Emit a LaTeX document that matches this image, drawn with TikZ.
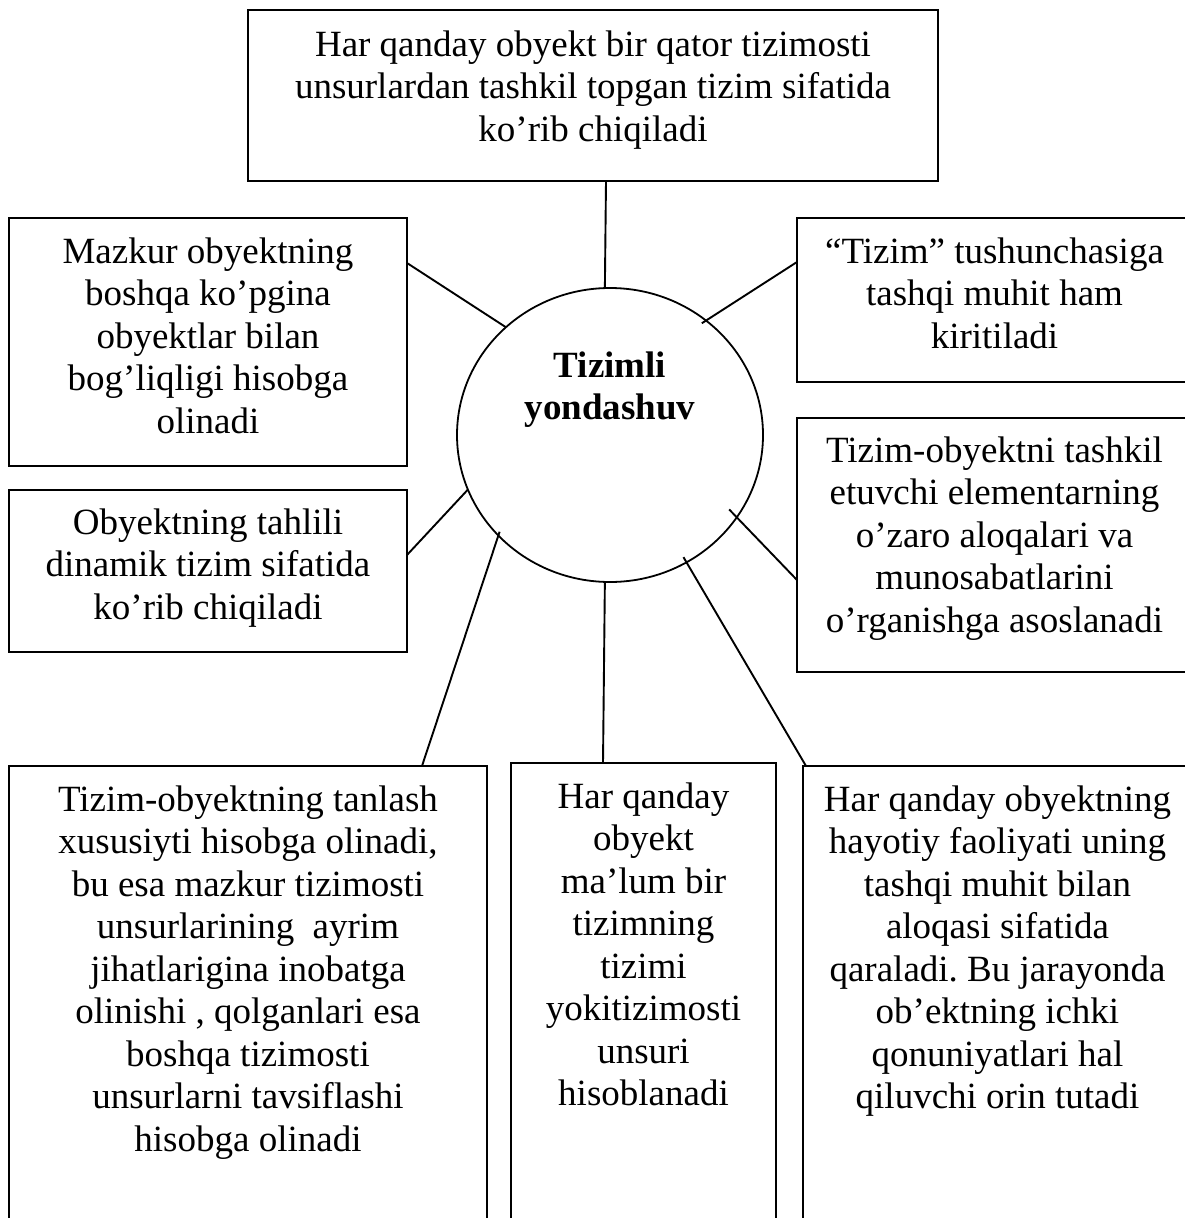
\documentclass[tikz,border=0pt]{standalone}
\usepackage{fontspec}
\setmainfont{Liberation Serif}
\usetikzlibrary{shapes.geometric,calc}
\frenchspacing
\newcommand\bodyfont{\fontsize{37}{42.5}\selectfont}
% fixes the height of a first line, so every box starts its text at the same depth
\newcommand\firstln{\rule{0pt}{26pt}}
\begin{document}
\begin{tikzpicture}[x=1pt,y=-1pt,
  frame/.style={draw, line width=1.9pt, rectangle, inner sep=0pt, outer sep=0pt, anchor=north west},
  txt/.style={anchor=north, inner sep=0pt, align=center, font=\bodyfont},
  link/.style={line width=1.9pt}]
\useasboundingbox (0,0) rectangle (1185,1218);
\clip (0,0) rectangle (1185,1218);
\fill[white] (0,0) rectangle (1185,1218);

% boxes
\node[frame, minimum width=690, minimum height=171] (topbox) at (248,10) {};
\node[frame, minimum width=398, minimum height=248] (mazkur) at (9,218) {};
\node[frame, minimum width=398, minimum height=162] (tahlil) at (9,490) {};
\node[frame, minimum width=395, minimum height=164] (tizim) at (797,218) {};
\node[frame, minimum width=395, minimum height=254] (tashkil) at (797,418) {};
\node[frame, minimum width=478, minimum height=480] (tanlash) at (9,766) {};
\node[frame, minimum width=265, minimum height=480] (malum) at (511,763) {};
\node[frame, minimum width=389, minimum height=480] (hayot) at (803,766) {};

% texts
\node[txt] (topboxT) at ($(topbox.north)+(0,20)$) {\firstln Har qanday obyekt bir qator tizimosti\\unsurlardan tashkil topgan tizim sifatida\\ko’rib chiqiladi};
\node[txt] (mazkurT) at ($(mazkur.north)+(0,19)$) {\firstln Mazkur obyektning\\boshqa ko’pgina\\obyektlar bilan\\bog’liqligi hisobga\\olinadi};
\node[txt] (tahlilT) at ($(tahlil.north)+(0,18)$) {\firstln Obyektning tahlili\\dinamik tizim sifatida\\ko’rib chiqiladi};
\node[txt] (tizimT) at ($(tizim.north)+(0,19)$) {\firstln “Tizim” tushunchasiga\\tashqi muhit ham\\kiritiladi};
\node[txt] (tashkilT) at ($(tashkil.north)+(0,18)$) {\firstln Tizim-obyektni tashkil\\etuvchi elementarning\\o’zaro aloqalari va\\munosabatlarini\\o’rganishga asoslanadi};
\node[txt] (tanlashT) at ($(tanlash.north)+(0,19)$) {\firstln Tizim-obyektning tanlash\\xususiyti hisobga olinadi,\\bu esa mazkur tizimosti\\unsurlarining~ ayrim\\jihatlarigina inobatga\\olinishi , qolganlari esa\\boshqa tizimosti\\unsurlarni tavsiflashi\\hisobga olinadi};
\node[txt] (malumT) at ($(malum.north)+(0,19)$) {\firstln Har qanday\\obyekt\\ma’lum bir\\tizimning\\tizimi\\yokitizimosti\\unsuri\\hisoblanadi};
\node[txt] (hayotT) at ($(hayot.north)+(0,19)$) {\firstln Har qanday obyektning\\hayotiy faoliyati uning\\tashqi muhit bilan\\aloqasi sifatida\\qaraladi. Bu jarayonda\\ob’ektning ichki\\qonuniyatlari hal\\qiluvchi orin tutadi};

% central circle
\node[ellipse, draw, line width=1.8pt, minimum width=306, minimum height=294, inner sep=0pt, outer sep=0pt] (hub) at (610,435) {};
\node[txt, font=\bodyfont\bfseries] (hubT) at (610,351) {\firstln Tizimli\\yondashuv};

% connectors
\coordinate (tzA) at ($(tizim.north west)+(0,44)$);
\coordinate (tsA) at ($(tashkil.north west)+(0,162)$);
\coordinate (tlA) at ($(tanlash.north west)+(413,0)$);
\coordinate (hyA) at ($(hayot.north west)+(3,0)$);
\draw[link] ($(topbox.south)+(13,0)$) -- (hub.92);
\draw[link] ($(mazkur.north east)+(0,45)$) -- (hub.134);
\draw[link] (tzA) -- ($(hub.50)!-5pt!(tzA)$);
\draw[link] ($(tahlil.north east)+(0,65)$) -- (hub.201);
\draw[link] (tsA) -- ($(hub.327)!-11pt!(tsA)$);
\draw[link] (tlA) -- ($(hub.222)!-4pt!(tlA)$);
\draw[link] ($(malum.north west)+(92,0)$) -- (hub.268);
\draw[link] (hyA) -- ($(hub.301)!-6pt!(hyA)$);
\end{tikzpicture}
\end{document}
